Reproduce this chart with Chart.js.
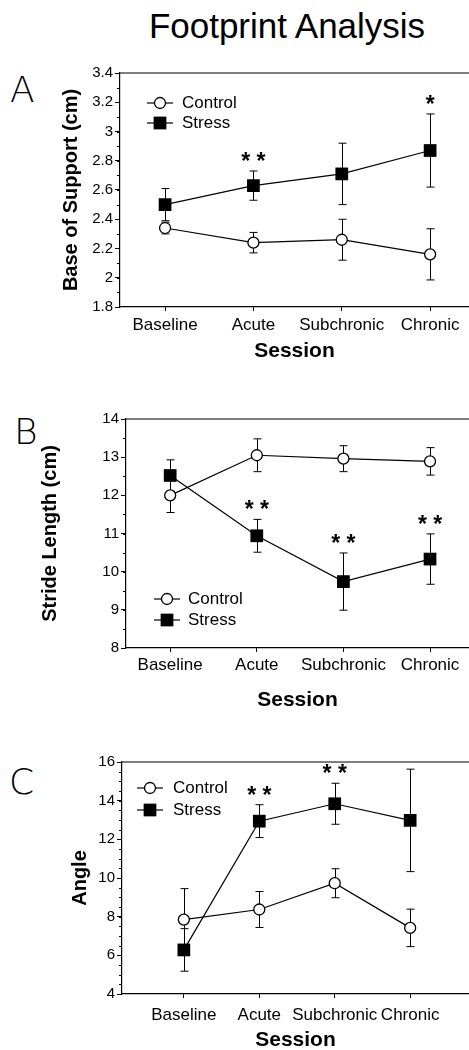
<!DOCTYPE html>
<html>
<head>
<meta charset="utf-8">
<script src="https://cdn.jsdelivr.net/npm/chart.js@4.4.1/dist/chart.umd.min.js"></script>
<style>
  html, body { margin: 0; padding: 0; background: #fff; overflow: hidden; }
  body { width: 469px; height: 1050px; position: relative; font-family: "Liberation Sans", Arial, sans-serif; color: #000; }
  .title { position: absolute; left: 287px; top: 8px; transform: translateX(-50%); font-size: 35px; line-height: 35px; white-space: nowrap; }
  .letter { position: absolute; font-family: "DejaVu Sans", sans-serif; font-weight: 200; font-size: 36px; line-height: 36px; }
  .panel { position: absolute; left: 0; }
</style>
</head>
<body>
<div class="title">Footprint Analysis</div>
<div class="letter" style="left:10px; top:72px;">A</div>
<div class="letter" style="left:14px; top:414px;">B</div>
<div class="letter" style="left:9px; top:764px;">C</div>
<canvas id="chartA" class="panel" width="469" height="320" style="top:50px;"></canvas>
<canvas id="chartB" class="panel" width="469" height="320" style="top:395px;"></canvas>
<canvas id="chartC" class="panel" width="469" height="320" style="top:740px;"></canvas>
<script>
const sessions = ['Baseline', 'Acute', 'Subchronic', 'Chronic'];

// A - base of support (cm)
const supportControl = [2.34, 2.24, 2.26, 2.16];
const supportControlErr = [0.04, 0.07, 0.14, 0.175];
const supportStress = [2.50, 2.63, 2.71, 2.87];
const supportStressErr = [0.11, 0.10, 0.21, 0.25];
const supportStars = ['', '* *', '', '*'];
const supportTicks = [1.8, 2, 2.2, 2.4, 2.6, 2.8, 3, 3.2, 3.4];

// B - stride length (cm)
const strideControl = [12.0, 13.05, 12.96, 12.89];
const strideControlErr = [0.45, 0.43, 0.34, 0.36];
const strideStress = [12.52, 10.94, 9.74, 10.33];
const strideStressErr = [0.41, 0.43, 0.75, 0.66];
const strideStars = ['', '* *', '* *', '* *'];
const strideTicks = [8, 9, 10, 11, 12, 13, 14];

// C - angle
const angleControl = [7.85, 8.37, 9.73, 7.42];
const angleControlErr = [1.6, 0.93, 0.75, 0.97];
const angleStress = [6.28, 12.94, 13.84, 12.98];
const angleStressErr = [1.1, 0.85, 1.06, 2.65];
const angleStars = ['', '* *', '* *', ''];
const angleTicks = [4, 6, 8, 10, 12, 14, 16];

const FONT = '"Liberation Sans", Arial, sans-serif';
Chart.defaults.font.family = FONT;
Chart.defaults.color = '#000';

function drawMarker(ctx, ds, x, y) {
    ctx.save();
    ctx.lineWidth = ds.pointBorderWidth;
    ctx.strokeStyle = '#000';
    ctx.fillStyle = ds.pointBackgroundColor;
    if (ds.pointStyle === 'rect') {
        const s = ds.pointRadius * Math.SQRT1_2;
        ctx.fillRect(x - s, y - s, 2 * s, 2 * s);
    } else {
        ctx.beginPath();
        ctx.arc(x, y, ds.pointRadius, 0, Math.PI * 2);
        ctx.fill();
        ctx.stroke();
    }
    ctx.restore();
}

const extras = {
    id: 'extras',
    beforeDatasetsDraw(chart, args, opts) {
        const { ctx, chartArea: ca, scales: { x, y } } = chart;
        ctx.save();
        ctx.strokeStyle = '#000';
        ctx.lineWidth = 1.2;
        ctx.beginPath();
        // top frame line
        ctx.moveTo(ca.left, ca.top);
        ctx.lineTo(ca.right, ca.top);
        // minor ticks on y
        const n = Math.round((y.max - y.min) / opts.minor);
        for (let k = 1; k < n; k++) {
            const py = Math.round(y.getPixelForValue(y.min + k * opts.minor)) + 0.5;
            ctx.moveTo(ca.left - 3, py);
            ctx.lineTo(ca.left, py);
        }
        ctx.stroke();
        // error bars
        ctx.lineWidth = 1;
        ctx.beginPath();
        chart.data.datasets.forEach(ds => {
            ds.data.forEach((p, i) => {
                const px = Math.round(x.getPixelForValue(p.x)) + 0.5;
                const top = y.getPixelForValue(p.y + ds.err[i]);
                const bot = y.getPixelForValue(p.y - ds.err[i]);
                ctx.moveTo(px, top); ctx.lineTo(px, bot);
                ctx.moveTo(px - 4, top); ctx.lineTo(px + 4, top);
                ctx.moveTo(px - 4, bot); ctx.lineTo(px + 4, bot);
            });
        });
        ctx.stroke();
        ctx.restore();
    },
    afterDatasetsDraw(chart, args, opts) {
        const { ctx, chartArea: ca, scales: { x, y } } = chart;
        ctx.save();
        // significance stars above the stress error bars
        const stress = chart.data.datasets[1];
        ctx.font = 'bold 23px ' + FONT;
        ctx.textAlign = 'center';
        ctx.textBaseline = 'alphabetic';
        ctx.fillStyle = '#000';
        opts.stars.forEach((s, i) => {
            if (!s) return;
            const p = stress.data[i];
            const py = y.getPixelForValue(p.y + stress.err[i]) - 16;
            ctx.fillText(s, x.getPixelForValue(p.x), py + 14);
        });
        // legend
        const lg = opts.legend;
        ctx.font = '17px ' + FONT;
        ctx.textAlign = 'left';
        ctx.textBaseline = 'middle';
        chart.data.datasets.forEach((ds, i) => {
            const mx = ca.left + lg.x;
            const my = ca.top + lg.y + i * lg.gap;
            ctx.strokeStyle = '#000';
            ctx.lineWidth = 1.2;
            ctx.beginPath();
            ctx.moveTo(mx - 13, my);
            ctx.lineTo(mx + 13, my);
            ctx.stroke();
            drawMarker(ctx, ds, mx, my);
            ctx.fillText(ds.label, mx + lg.text, my);
        });
        ctx.restore();
    }
};

function makeChart(id, c) {
    const pts = vals => vals.map((v, i) => ({ x: i, y: v }));
    new Chart(document.getElementById(id), {
        type: 'line',
        data: {
            datasets: [{
                label: 'Control',
                data: pts(c.control),
                err: c.controlErr,
                borderColor: '#000',
                borderWidth: 1.2,
                pointStyle: 'circle',
                pointRadius: 5.5,
                pointBackgroundColor: '#fff',
                pointBorderColor: '#000',
                pointBorderWidth: 1.3,
            }, {
                label: 'Stress',
                data: pts(c.stress),
                err: c.stressErr,
                borderColor: '#000',
                borderWidth: 1.2,
                pointStyle: 'rect',
                pointRadius: 9,
                pointBackgroundColor: '#000',
                pointBorderColor: '#000',
                pointBorderWidth: 0,
            }],
        },
        options: {
            responsive: false,
            animation: false,
            layout: { autoPadding: false, padding: { top: c.padTop, right: 0, bottom: 0, left: 0 } },
            plugins: {
                legend: { display: false },
                tooltip: { enabled: false },
                extras: { minor: c.minor, stars: c.stars, legend: c.legend },
            },
            scales: {
                x: {
                    type: 'linear',
                    min: c.xMin,
                    max: c.xMax,
                    afterBuildTicks: s => { s.ticks = sessions.map((_, i) => ({ value: i })); },
                    afterFit: s => { s.height = c.xHeight; },
                    ticks: {
                        callback: v => sessions[v],
                        font: { size: 17 },
                        padding: c.xPad,
                        maxRotation: 0,
                        autoSkip: false,
                    },
                    grid: { drawOnChartArea: false, tickLength: 4, color: '#000' },
                    border: { color: '#000', width: 1.2 },
                    title: {
                        display: true,
                        text: 'Session',
                        font: { size: 21, weight: 'bold' },
                        padding: { top: 0, bottom: c.xTitlePad },
                    },
                },
                y: {
                    min: c.ticks[0],
                    max: c.ticks[c.ticks.length - 1],
                    afterBuildTicks: s => { s.ticks = c.ticks.map(v => ({ value: v })); },
                    afterFit: s => { s.width = c.left; },
                    ticks: { font: { size: 15 }, padding: 2, callback: v => String(v) },
                    grid: { drawOnChartArea: false, tickLength: 5, color: '#000' },
                    border: { color: '#000', width: 1.2 },
                    title: {
                        display: true,
                        text: c.yTitle,
                        font: { size: 20, weight: 'bold' },
                        padding: { top: c.yTitlePad, bottom: 0 },
                    },
                },
            },
        },
        plugins: [extras],
    });
}

makeChart('chartA', {
    control: supportControl, controlErr: supportControlErr,
    stress: supportStress, stressErr: supportStressErr,
    stars: supportStars, ticks: supportTicks, minor: 0.1,
    yTitle: 'Base of Support (cm)',
    padTop: 23, xHeight: 63, left: 120, xMin: -0.51, xMax: 3.44,
    xPad: 4.5, xTitlePad: 6.4, yTitlePad: 59,
    legend: { x: 40, y: 30, gap: 20, text: 22 },
});

makeChart('chartB', {
    control: strideControl, controlErr: strideControlErr,
    stress: strideStress, stressErr: strideStressErr,
    stars: strideStars, ticks: strideTicks, minor: 0.5,
    yTitle: 'Stride Length (cm)',
    padTop: 24, xHeight: 67, left: 126, xMin: -0.51, xMax: 3.45,
    xPad: 3.5, xTitlePad: 2.4, yTitlePad: 38,
    legend: { x: 41, y: 180, gap: 21, text: 21 },
});

makeChart('chartC', {
    control: angleControl, controlErr: angleControlErr,
    stress: angleStress, stressErr: angleStressErr,
    stars: angleStars, ticks: angleTicks, minor: 0.5,
    yTitle: 'Angle',
    padTop: 22, xHeight: 66, left: 122, xMin: -0.82, xMax: 3.78,
    xPad: 7.5, xTitlePad: 7.4, yTitlePad: 68,
    legend: { x: 28, y: 26, gap: 22, text: 23 },
});
</script>
</body>
</html>
